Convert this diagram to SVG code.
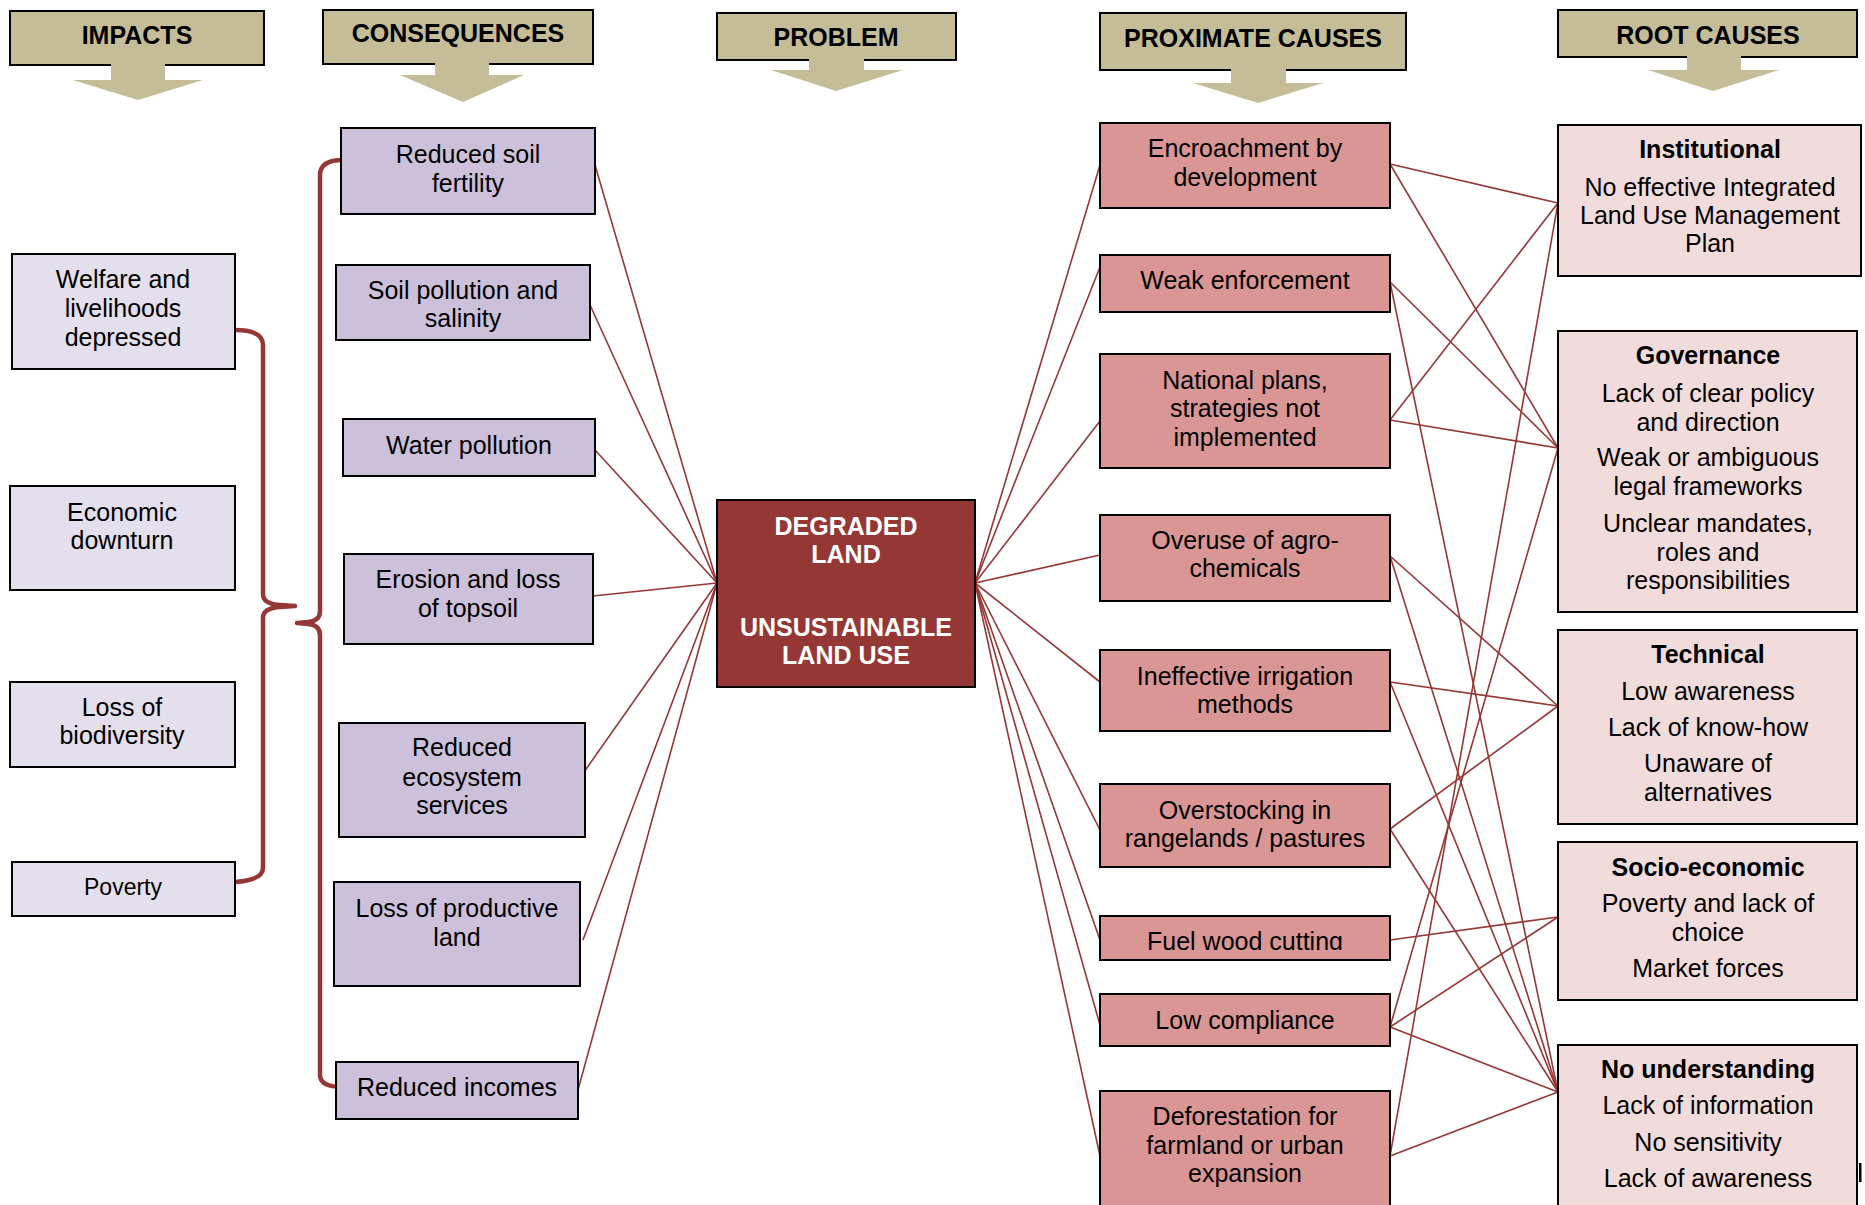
<svg xmlns="http://www.w3.org/2000/svg" width="1865" height="1205" viewBox="0 0 1865 1205">
<style>
text{font-family:"Liberation Sans",Arial,sans-serif;font-size:25px;fill:#000;text-anchor:middle}
.hd{font-weight:bold}
.b{font-weight:bold}
.w{fill:#fff;font-weight:bold}
.hbox{fill:#c4bd97;stroke:#000;stroke-width:2}
.arr{fill:#c4bd97}
.imp{fill:#e4dfec;stroke:#000;stroke-width:2}
.con{fill:#ccc0da;stroke:#000;stroke-width:2}
.prb{fill:#953735;stroke:#000;stroke-width:2}
.prx{fill:#da9694;stroke:#000;stroke-width:2}
.root{fill:#f2dcdb;stroke:#000;stroke-width:2}
.ln{stroke:#953735;stroke-width:1.6;fill:none}
.br{stroke:#953735;stroke-width:4.5;fill:none;stroke-linejoin:round}
</style>
<defs>
<clipPath id="fwclip"><rect x="1100" y="916" width="290" height="34"/></clipPath>
</defs>
<rect width="1865" height="1205" fill="#fff"/>

<!-- headers -->
<g id="h-impacts">
<rect class="hbox" x="10" y="11" width="254" height="54"/>
<text class="hd" x="137" y="44">IMPACTS</text>
<rect class="arr" x="111" y="63" width="54" height="17"/>
<polygon class="arr" points="73,80 203,80 138,100"/>
</g>
<g id="h-consequences">
<rect class="hbox" x="323" y="10" width="270" height="54"/>
<text class="hd" x="458" y="42">CONSEQUENCES</text>
<rect class="arr" x="435" y="62" width="54" height="13"/>
<polygon class="arr" points="400,75 524,75 463,102"/>
</g>
<g id="h-problem">
<rect class="hbox" x="717" y="13" width="239" height="47"/>
<text class="hd" x="836" y="46">PROBLEM</text>
<rect class="arr" x="809" y="58" width="55" height="12"/>
<polygon class="arr" points="771,70 903,70 836,91"/>
</g>
<g id="h-proximate">
<rect class="hbox" x="1100" y="13" width="306" height="57"/>
<text class="hd" x="1253" y="47">PROXIMATE CAUSES</text>
<rect class="arr" x="1231" y="68" width="55" height="15"/>
<polygon class="arr" points="1193,83 1323,83 1258,103"/>
</g>
<g id="h-root">
<rect class="hbox" x="1558" y="10" width="299" height="47"/>
<text class="hd" x="1708" y="44">ROOT CAUSES</text>
<rect class="arr" x="1687" y="55" width="54" height="15"/>
<polygon class="arr" points="1648,70 1779,70 1713,91"/>
</g>

<!-- connectors -->
<g id="connectors">
<path class="br" d="M235,330 Q263,330 263,345 L263,594 Q263,604 280,605 L295,606 L280,607 Q263,608 263,618 L263,868 Q263,880 235,882"/>
<path class="br" d="M343,160 Q320,160 320,175 L320,611 Q320,621 308,622 L297,623 L308,624 Q320,625 320,635 L320,1075 Q320,1087 343,1087"/>
<g class="ln">
<line x1="717" y1="583" x2="595" y2="165"/>
<line x1="717" y1="583" x2="590" y2="305"/>
<line x1="717" y1="583" x2="595" y2="450"/>
<line x1="717" y1="583" x2="593" y2="596"/>
<line x1="717" y1="583" x2="584" y2="772"/>
<line x1="717" y1="583" x2="583" y2="940"/>
<line x1="717" y1="583" x2="578" y2="1090"/>

<line x1="975" y1="583" x2="1100" y2="165"/>
<line x1="975" y1="583" x2="1100" y2="267"/>
<line x1="975" y1="583" x2="1100" y2="421"/>
<line x1="975" y1="583" x2="1100" y2="555"/>
<line x1="975" y1="583" x2="1100" y2="682"/>
<line x1="975" y1="583" x2="1100" y2="830"/>
<line x1="975" y1="583" x2="1100" y2="940"/>
<line x1="975" y1="583" x2="1100" y2="1025"/>
<line x1="975" y1="583" x2="1100" y2="1156"/>

<line x1="1390" y1="164" x2="1558" y2="203"/>
<line x1="1390" y1="420" x2="1558" y2="203"/>
<line x1="1390" y1="1156" x2="1558" y2="203"/>
<line x1="1390" y1="164" x2="1558" y2="448"/>
<line x1="1390" y1="282" x2="1558" y2="448"/>
<line x1="1390" y1="420" x2="1558" y2="448"/>
<line x1="1390" y1="1027" x2="1558" y2="448"/>
<line x1="1390" y1="556" x2="1558" y2="706"/>
<line x1="1390" y1="682" x2="1558" y2="706"/>
<line x1="1390" y1="829" x2="1558" y2="706"/>
<line x1="1390" y1="940" x2="1558" y2="917"/>
<line x1="1390" y1="1027" x2="1558" y2="917"/>
<line x1="1390" y1="282" x2="1558" y2="1092"/>
<line x1="1390" y1="556" x2="1558" y2="1092"/>
<line x1="1390" y1="682" x2="1558" y2="1092"/>
<line x1="1390" y1="829" x2="1558" y2="1092"/>
<line x1="1390" y1="1027" x2="1558" y2="1092"/>
<line x1="1390" y1="1156" x2="1558" y2="1092"/>
</g>
</g>

<!-- impacts -->
<g id="imp-welfare"><rect class="imp" x="12" y="254" width="223" height="115"/>
<text x="123" y="288">Welfare and</text><text x="123" y="317">livelihoods</text><text x="123" y="346">depressed</text></g>
<g id="imp-economic"><rect class="imp" x="10" y="486" width="225" height="104"/>
<text x="122" y="521">Economic</text><text x="122" y="549">downturn</text></g>
<g id="imp-biodiversity"><rect class="imp" x="10" y="682" width="225" height="85"/>
<text x="122" y="716">Loss of</text><text x="122" y="744">biodiversity</text></g>
<g id="imp-poverty"><rect class="imp" x="12" y="862" width="223" height="54"/>
<text x="123" y="895" style="font-size:23px">Poverty</text></g>

<!-- consequences -->
<g id="con-fertility"><rect class="con" x="341" y="128" width="254" height="86"/>
<text x="468" y="163">Reduced soil</text><text x="468" y="192">fertility</text></g>
<g id="con-soilpollution"><rect class="con" x="336" y="265" width="254" height="75"/>
<text x="463" y="299">Soil pollution and</text><text x="463" y="327">salinity</text></g>
<g id="con-water"><rect class="con" x="343" y="419" width="252" height="57"/>
<text x="469" y="454">Water pollution</text></g>
<g id="con-erosion"><rect class="con" x="344" y="554" width="249" height="90"/>
<text x="468" y="588">Erosion and loss</text><text x="468" y="617">of topsoil</text></g>
<g id="con-ecosystem"><rect class="con" x="339" y="723" width="246" height="114"/>
<text x="462" y="756">Reduced</text><text x="462" y="786">ecosystem</text><text x="462" y="814">services</text></g>
<g id="con-productive"><rect class="con" x="334" y="882" width="246" height="104"/>
<text x="457" y="917">Loss of productive</text><text x="457" y="946">land</text></g>
<g id="con-incomes"><rect class="con" x="336" y="1062" width="242" height="57"/>
<text x="457" y="1096">Reduced incomes</text></g>

<!-- problem -->
<g id="problem"><rect class="prb" x="717" y="500" width="258" height="187"/>
<text class="w" x="846" y="535">DEGRADED</text><text class="w" x="846" y="563">LAND</text>
<text class="w" x="846" y="636">UNSUSTAINABLE</text><text class="w" x="846" y="664">LAND USE</text></g>

<!-- proximate causes -->
<g id="prx-encroachment"><rect class="prx" x="1100" y="123" width="290" height="85"/>
<text x="1245" y="157">Encroachment by</text><text x="1245" y="186">development</text></g>
<g id="prx-weak"><rect class="prx" x="1100" y="255" width="290" height="57"/>
<text x="1245" y="289">Weak enforcement</text></g>
<g id="prx-national"><rect class="prx" x="1100" y="354" width="290" height="114"/>
<text x="1245" y="389">National plans,</text><text x="1245" y="417">strategies not</text><text x="1245" y="446">implemented</text></g>
<g id="prx-overuse"><rect class="prx" x="1100" y="515" width="290" height="86"/>
<text x="1245" y="549">Overuse of agro-</text><text x="1245" y="577">chemicals</text></g>
<g id="prx-irrigation"><rect class="prx" x="1100" y="650" width="290" height="81"/>
<text x="1245" y="685">Ineffective irrigation</text><text x="1245" y="713">methods</text></g>
<g id="prx-overstocking"><rect class="prx" x="1100" y="784" width="290" height="83"/>
<text x="1245" y="819">Overstocking in</text><text x="1245" y="847">rangelands / pastures</text></g>
<g id="prx-fuelwood"><rect class="prx" x="1100" y="916" width="290" height="44"/>
<text x="1245" y="950" clip-path="url(#fwclip)">Fuel wood cutting</text></g>
<g id="prx-compliance"><rect class="prx" x="1100" y="994" width="290" height="52"/>
<text x="1245" y="1029">Low compliance</text></g>
<g id="prx-deforestation"><rect class="prx" x="1100" y="1091" width="290" height="116"/>
<text x="1245" y="1125">Deforestation for</text><text x="1245" y="1154">farmland or urban</text><text x="1245" y="1182">expansion</text></g>

<!-- root causes -->
<g id="root-institutional"><rect class="root" x="1558" y="125" width="303" height="151"/>
<text class="b" x="1710" y="158">Institutional</text>
<text x="1710" y="196">No effective Integrated</text><text x="1710" y="224">Land Use Management</text><text x="1710" y="252">Plan</text></g>
<g id="root-governance"><rect class="root" x="1558" y="331" width="299" height="281"/>
<text class="b" x="1708" y="364">Governance</text>
<text x="1708" y="402">Lack of clear policy</text><text x="1708" y="431">and direction</text>
<text x="1708" y="466">Weak or ambiguous</text><text x="1708" y="495">legal frameworks</text>
<text x="1708" y="532">Unclear mandates,</text><text x="1708" y="561">roles and</text><text x="1708" y="589">responsibilities</text></g>
<g id="root-technical"><rect class="root" x="1558" y="630" width="299" height="194"/>
<text class="b" x="1708" y="663">Technical</text>
<text x="1708" y="700">Low awareness</text><text x="1708" y="736">Lack of know-how</text>
<text x="1708" y="772">Unaware of</text><text x="1708" y="801">alternatives</text></g>
<g id="root-socio"><rect class="root" x="1558" y="842" width="299" height="158"/>
<text class="b" x="1708" y="876">Socio-economic</text>
<text x="1708" y="912">Poverty and lack of</text><text x="1708" y="941">choice</text>
<text x="1708" y="977">Market forces</text></g>
<g id="root-understanding"><rect class="root" x="1558" y="1045" width="299" height="162"/>
<text class="b" x="1708" y="1078">No understanding</text>
<text x="1708" y="1114">Lack of information</text><text x="1708" y="1151">No sensitivity</text>
<text x="1708" y="1187">Lack of awareness</text></g>
<rect x="1859" y="1163" width="2.5" height="19" fill="#000"/>
</svg>
